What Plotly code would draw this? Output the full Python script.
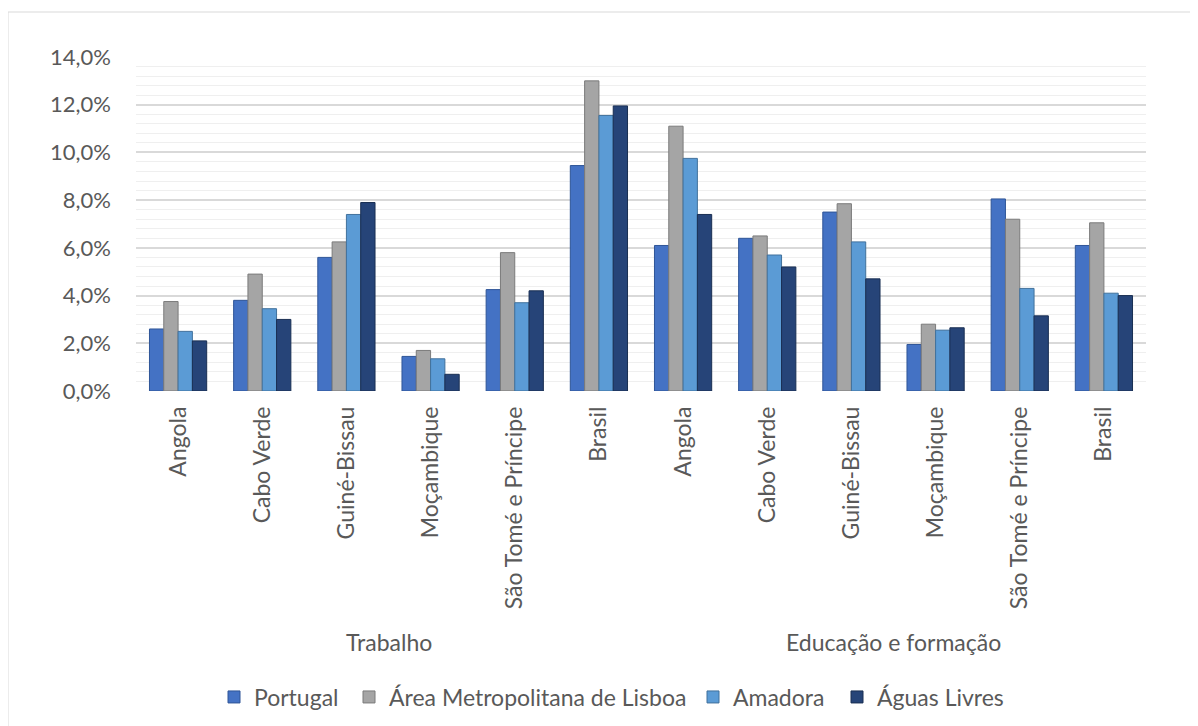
import plotly.graph_objects as go

groups = ["Trabalho", "Educação e formação"]
countries = ["Angola", "Cabo Verde", "Guiné-Bissau", "Moçambique", "São Tomé e Príncipe", "Brasil"] * 2

portugal = [2.6, 3.8, 5.6, 1.45, 4.25, 9.45, 6.1, 6.4, 7.5, 1.95, 8.05, 6.1]
aml = [3.75, 4.9, 6.25, 1.7, 5.8, 13.0, 11.1, 6.5, 7.85, 2.8, 7.2, 7.05]
amadora = [2.5, 3.45, 7.4, 1.35, 3.7, 11.55, 9.75, 5.7, 6.25, 2.55, 4.3, 4.1]
aguas = [2.1, 3.0, 7.9, 0.7, 4.2, 11.95, 7.4, 5.2, 4.7, 2.65, 3.15, 4.0]

series_names = ["Portugal", "Área Metropolitana de Lisboa", "Amadora", "Águas Livres"]
series_values = [portugal, aml, amadora, aguas]
colors = ["#4472C4", "#A5A5A5", "#5B9BD5", "#264478"]
sides = ["#2F5597", "#7B7B7B", "#41719C", "#1A2F53"]

# page body has an 8px margin; compensate so the figure lands where the reference is
OFF = 8
W, H = 1198, 726
PL, PR, PT, PB = 136, 1146, 57, 391          # plot area in page pixels
ml, mr, mt, mb = PL - OFF, W - PR + OFF, PT - OFF, H - PB + OFF
PW, PH = PR - PL, PB - PT


def px_x(X):
    return (X - PL) / PW


def px_y(Y):
    return (PB - Y) / PH


xpos = list(range(len(countries)))
legend_names = ["legend", "legend2", "legend3", "legend4"]
text_starts = [254, 389, 733, 877]

FONT = "Lato"
fig = go.Figure()
for name, vals, c, s, lg in zip(series_names, series_values, colors, sides, legend_names):
    fig.add_trace(go.Bar(
        x=xpos, y=vals, name=name, legend=lg, showlegend=True,
        marker=dict(color=c, line=dict(color=s, width=1)),
    ))

legends = {}
for lg, ts in zip(legend_names, text_starts):
    legends[lg] = dict(orientation="h", x=px_x(ts - 40), xanchor="left",
                       y=px_y(697), yanchor="middle", font=dict(size=23),
                       itemwidth=30, bgcolor="rgba(0,0,0,0)")

annotations = []
for i, g in enumerate(groups):
    annotations.append(dict(text=g, x=i * 6 + 2.5, xref="x", y=px_y(642), yref="paper",
                            showarrow=False, font=dict(size=23, family=FONT, color="#595959"),
                            xanchor="center", yanchor="middle"))

fig.update_layout(
    width=W, height=H,
    showlegend=True,
    margin=dict(l=ml, r=mr, t=mt, b=mb),
    paper_bgcolor="white", plot_bgcolor="white",
    barmode="group", bargap=0.32, bargroupgap=0,
    separators=",.",
    font=dict(family=FONT, color="#595959", size=23),
    xaxis=dict(range=[-0.5, 11.5], tickmode="array", tickvals=xpos, ticktext=countries,
               tickangle=-90, showgrid=False, showline=False, zeroline=False,
               ticks="", tickfont=dict(size=23), ticklabelstandoff=10),
    yaxis=dict(range=[0, 14], dtick=2, tickformat=".1f", ticksuffix="%",
               showgrid=True, gridcolor="#D9D9D9", gridwidth=1.5, zeroline=False,
               showline=False, ticks="", ticklabelstandoff=24,
               minor=dict(dtick=0.4, showgrid=True, gridcolor="#EFEFEF", gridwidth=1),
               tickfont=dict(size=22)),
    annotations=annotations,
    shapes=[dict(type="rect", xref="paper", yref="paper",
                 x0=px_x(8), x1=px_x(W + 30), y0=px_y(H + 30), y1=px_y(12),
                 line=dict(color="#D9D9D9", width=1), layer="below")],
    **legends,
)

fig.write_html("out.html")
